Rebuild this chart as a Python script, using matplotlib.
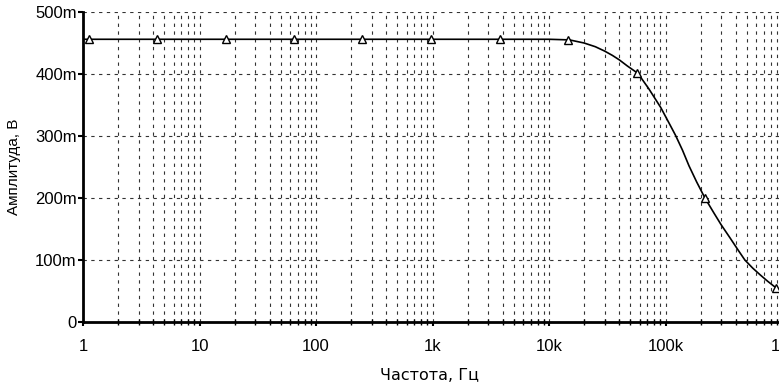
import matplotlib
matplotlib.use('Agg')
import matplotlib.pyplot as plt
from matplotlib.ticker import FixedLocator, FixedFormatter, NullFormatter, LogLocator

# ================== DATA ==================
# amplitude response
freq = [1, 10, 100, 1e3, 1e4, 15e3, 20e3, 25e3, 30e3, 35e3, 40e3, 47e3, 58e3, 72e3, 91e3,
        110e3, 122e3, 140e3, 159e3, 185e3, 218e3, 260e3, 300e3, 360e3, 420e3, 480e3,
        560e3, 650e3, 750e3, 890e3, 1e6]
amp = [0.456, 0.456, 0.456, 0.456, 0.456, 0.455, 0.450, 0.444, 0.437, 0.430, 0.423, 0.413,
       0.401, 0.376, 0.346, 0.317, 0.301, 0.277, 0.252, 0.226, 0.200, 0.176, 0.157, 0.135,
       0.116, 0.100, 0.087, 0.076, 0.066, 0.055, 0.049]

# triangle markers drawn by the simulator
mark_freq = [1.12, 4.3, 17, 65, 250, 980, 3.8e3, 14.5e3, 57e3, 219e3, 890e3]
mark_amp = [0.456, 0.456, 0.456, 0.456, 0.456, 0.456, 0.456, 0.455, 0.402, 0.200, 0.055]

x_ticks = [1, 10, 100, 1e3, 1e4, 1e5, 1e6]
x_labels = ['1', '10', '100', '1k', '10k', '100k', '1M']
y_ticks = [0, 0.1, 0.2, 0.3, 0.4, 0.5]
y_labels = ['0', '100m', '200m', '300m', '400m', '500m']

# ================== PLOT ==================
narrow = ['Liberation Sans', 'DejaVu Sans']

fig = plt.figure(figsize=(7.79, 3.85), dpi=100)
ax = fig.add_axes([83 / 779, 63 / 385, 699 / 779, 310 / 385])

ax.set_xscale('log')
ax.set_xlim(1, 1e6)
ax.set_ylim(0, 0.5)

grid_kw = dict(color='#333333', linewidth=0.8, linestyle=(0, (3, 4)))
ax.xaxis.set_major_locator(FixedLocator(x_ticks))
ax.xaxis.set_major_formatter(FixedFormatter(x_labels))
ax.xaxis.set_minor_locator(LogLocator(base=10, subs=range(2, 10), numticks=20))
ax.xaxis.set_minor_formatter(NullFormatter())
ax.yaxis.set_major_locator(FixedLocator(y_ticks))
ax.yaxis.set_major_formatter(FixedFormatter(y_labels))

ax.grid(True, which='major', axis='both', **grid_kw)
ax.grid(True, which='minor', axis='x', **grid_kw)

ax.plot(freq, amp, color='black', linewidth=1.2, zorder=3)
ax.plot(mark_freq, mark_amp, linestyle='none', marker='^', markersize=6,
        markerfacecolor='white', markeredgecolor='black', markeredgewidth=1.0,
        zorder=4, clip_on=False)

for side in ['top', 'right']:
    ax.spines[side].set_visible(False)
for side in ['left', 'bottom']:
    ax.spines[side].set_linewidth(2)

ax.tick_params(axis='x', which='major', direction='out', length=3, width=1.5, pad=9)
ax.tick_params(axis='x', which='minor', direction='inout', length=4, width=1)
ax.tick_params(axis='y', which='major', direction='out', length=3.5, width=1.5, pad=1)

for lbl in ax.get_xticklabels() + ax.get_yticklabels():
    lbl.set_family(narrow)
    lbl.set_fontsize(12)

ax.set_xlabel('Частота, Гц', fontsize=11.5, family='DejaVu Sans')
ax.xaxis.set_label_coords(0.496, -0.148)
ax.set_ylabel('Амплитуда, В', fontsize=11, family=narrow)
ax.yaxis.set_label_coords(-0.088, 0.5)

plt.savefig('out.png', dpi=100)
plt.close()
